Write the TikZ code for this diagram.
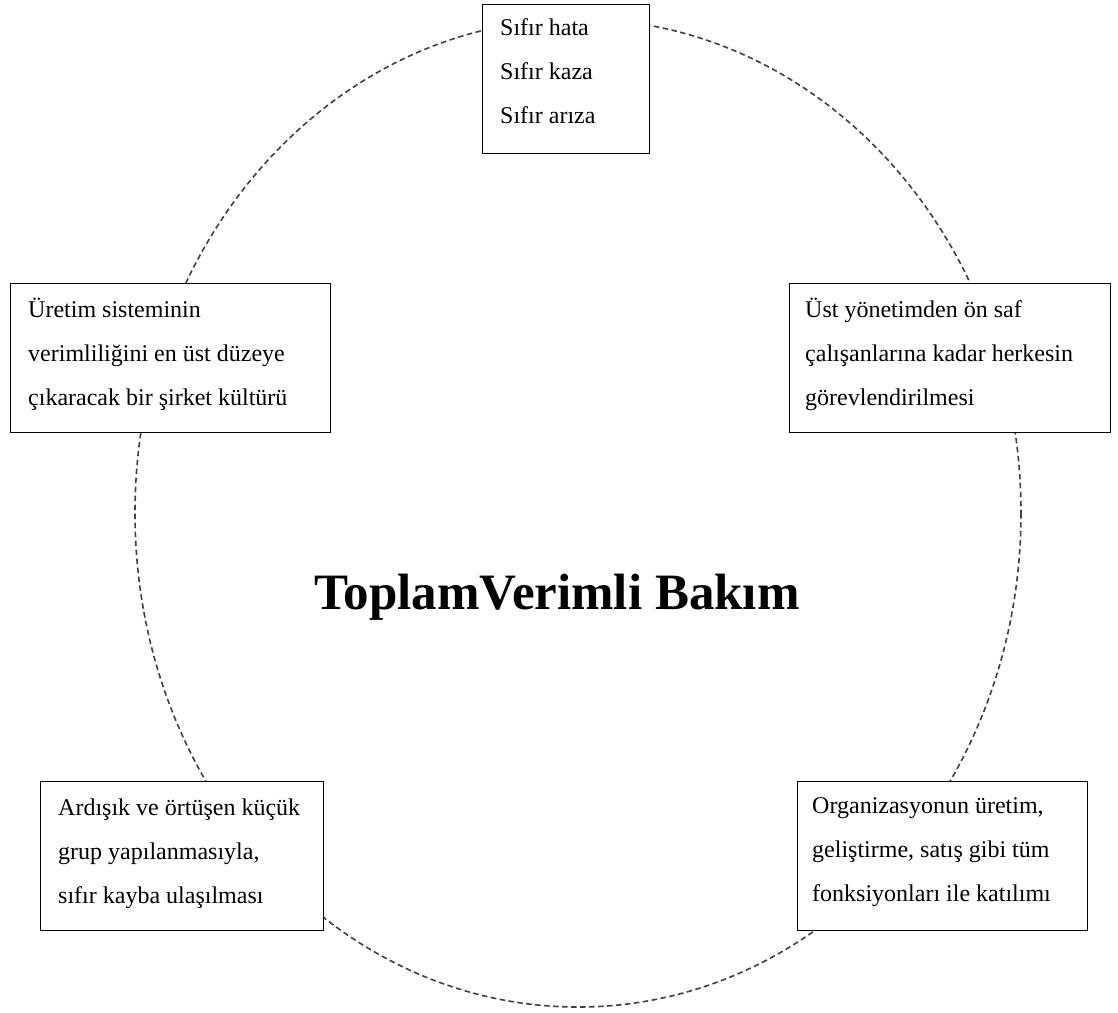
\documentclass[tikz,border=0pt]{standalone}
\usepackage{fontspec}
\setmainfont{Liberation Serif}
\usepackage{tikz}
\usetikzlibrary{calc}

\tikzset{
  box/.style={draw=black, fill=white, line width=1.4pt, anchor=north west, inner sep=0pt},
  boxtext/.style={anchor=north west, inner sep=0pt, align=left, font=\fontsize{24}{44}\selectfont},
  ring/.style={draw=black!75, line width=1.6pt, dash pattern=on 5.5pt off 3.5pt},
}

\begin{document}
\begin{tikzpicture}[x=1pt, y=-1pt]
  \useasboundingbox (0,0) rectangle (1118,1012);
  % dashed ring behind the boxes
  \draw[ring] (578,513) ellipse [x radius=443, y radius=494];

  % boxes
  \node[box, minimum width=167pt, minimum height=149pt] (zero) at (482,4) {};
  \node[box, minimum width=320pt, minimum height=149pt] (culture) at (10,283) {};
  \node[box, minimum width=321pt, minimum height=149pt] (staff) at (789,283) {};
  \node[box, minimum width=283pt, minimum height=149pt] (groups) at (40,781) {};
  \node[box, minimum width=290pt, minimum height=149pt] (functions) at (797,781) {};

  % texts
  \node[boxtext] (zeroText) at ($(zero.north west)+(18,0)$)
    {\strut Sıfır hata\\\strut Sıfır kaza\\\strut Sıfır arıza};
  \node[boxtext] (cultureText) at ($(culture.north west)+(18,3)$)
    {\strut Üretim sisteminin\\\strut verimliliğini en üst düzeye\\\strut çıkaracak bir şirket kültürü};
  \node[boxtext] (staffText) at ($(staff.north west)+(16,3)$)
    {\strut Üst yönetimden ön saf\\\strut çalışanlarına kadar herkesin\\\strut görevlendirilmesi};
  \node[boxtext] (groupsText) at ($(groups.north west)+(18,3)$)
    {\strut Ardışık ve örtüşen küçük\\\strut grup yapılanmasıyla,\\\strut sıfır kayba ulaşılması};
  \node[boxtext] (functionsText) at ($(functions.north west)+(15,1)$)
    {\strut Organizasyonun üretim,\\\strut geliştirme, satış gibi tüm\\\strut fonksiyonları ile katılımı};

  % title
  \node[anchor=base, inner sep=0pt, font=\fontsize{51}{60}\selectfont\bfseries] (title) at (557,609)
    {ToplamVerimli Bakım};
\end{tikzpicture}
\end{document}
